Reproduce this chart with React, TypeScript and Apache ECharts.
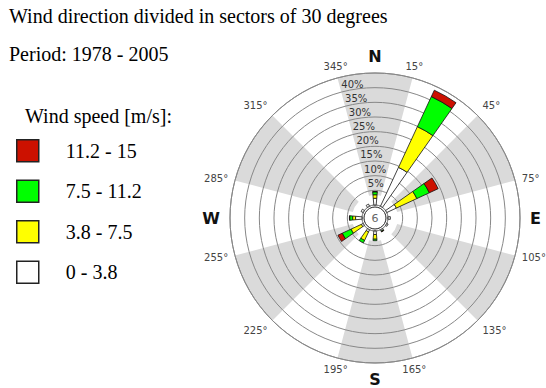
import React, { useEffect, useRef } from "react";
import * as echarts from "echarts";

const directions = ["0", "30", "60", "90", "120", "150", "180", "210", "240", "270", "300", "330"];
const calmPercent = 6;
const speed0to38 = [2.3, 14.6, 3.6, 0.8, 0.5, 0.5, 1.2, 0.8, 0.7, 2.2, 0.8, 0.8];
const speed38to75 = [1.2, 15.3, 7.7, 0, 0, 0, 1.6, 3.2, 3.9, 1.0, 0, 0];
const speed75to112 = [1.0, 11.3, 4.7, 0, 0, 0.2, 0.5, 0.9, 3.3, 1.0, 0, 0];
const speed112to15 = [0.1, 2.4, 3.3, 0, 0, 0.1, 0, 0, 1.6, 0.1, 0, 0];
const classNames = ["0 - 3.8", "3.8 - 7.5", "7.5 - 11.2", "11.2 - 15"];
const classColors = ["#ffffff", "#ffff00", "#00ff00", "#cc1100"];
const compassLabels: Record<number, string> = { 0: "N", 90: "E", 180: "S", 270: "W" };

const CENTER = [375, 218];
const SERIF = "'Liberation Serif', 'Times New Roman', serif";
const SANS = "'DejaVu Sans', Verdana, sans-serif";

export default function App() {
  const ref = useRef<HTMLDivElement>(null);
  useEffect(() => {
    document.body.style.margin = "0";
    const chart = echarts.init(ref.current!, null, { renderer: "svg" });
    const values = [speed0to38, speed38to75, speed75to112, speed112to15];
    const barSeries = values.map((d, i) => ({
      type: "bar",
      name: classNames[i],
      coordinateSystem: "polar",
      polarIndex: 1,
      stack: "wind",
      barWidth: "34%",
      data: d.map((v) => (v === 0 ? "-" : v)),
      itemStyle: { color: classColors[i], borderColor: "#111", borderWidth: 0.8 },
      silent: true,
      z: 3,
    }));
    chart.setOption({
      animation: false,
      backgroundColor: "#fff",
      title: [
        {
          text: "Wind direction divided in sectors of 30 degrees",
          subtext: "Period: 1978 - 2005",
          left: 9,
          top: 6,
          padding: 0,
          itemGap: 18,
          textStyle: { fontFamily: SERIF, fontSize: 20, fontWeight: "normal", color: "#000" },
          subtextStyle: { fontFamily: SERIF, fontSize: 20, color: "#000" },
        },
        {
          text: "Wind speed [m/s]:",
          left: 25,
          top: 106,
          padding: 0,
          textStyle: { fontFamily: SERIF, fontSize: 20, fontWeight: "normal", color: "#000" },
        },
      ],
      legend: {
        orient: "vertical",
        left: 16,
        top: 139,
        padding: 0,
        itemWidth: 22,
        itemHeight: 22,
        itemGap: 17,
        icon: "rect",
        data: [classNames[3], classNames[2], classNames[1], classNames[0]],
        itemStyle: { borderColor: "#222", borderWidth: 1.5 },
        textStyle: { fontFamily: SERIF, fontSize: 20, color: "#000", padding: [0, 0, 0, 22] },
        selectedMode: false,
      },
      polar: [
        { center: CENTER, radius: [23, 145] },
        { center: CENTER, radius: [13, 145] },
        { center: CENTER, radius: [0, 145] },
      ],
      angleAxis: [
        {
          polarIndex: 0,
          type: "value",
          min: 0,
          max: 360,
          interval: 30,
          startAngle: 75,
          z: 0,
          axisLine: { show: false },
          axisTick: { show: false },
          splitLine: { show: false },
          splitArea: { show: true, areaStyle: { color: ["#ffffff", "#dadada"] } },
          axisLabel: {
            margin: 7,
            fontFamily: SANS,
            fontSize: 10,
            color: "#444",
            formatter: (v: number) => (v >= 360 ? "" : v + 15 + "°"),
          },
        },
        {
          polarIndex: 1,
          type: "category",
          data: directions,
          startAngle: 105,
          boundaryGap: true,
          z: 2,
          axisLine: { show: true, lineStyle: { color: "#888", width: 1 } },
          axisTick: { show: false },
          axisLabel: { show: false },
          splitLine: { show: false },
        },
        {
          polarIndex: 2,
          type: "value",
          min: 0,
          max: 360,
          interval: 90,
          startAngle: 90,
          axisLine: { show: false },
          axisTick: { show: false },
          splitLine: { show: false },
          axisLabel: {
            margin: 10,
            lineHeight: 13,
            fontFamily: SANS,
            fontSize: 16,
            fontWeight: "bold",
            color: "#111",
            formatter: (v: number) => compassLabels[v] || "",
          },
        },
      ],
      radiusAxis: [
        { polarIndex: 0, type: "value", show: false },
        {
          polarIndex: 1,
          type: "value",
          min: 0,
          max: 45,
          interval: 5,
          z: 2,
          axisLine: { show: false },
          axisTick: { show: false },
          splitLine: { show: true, lineStyle: { color: "#888", width: 1 } },
          axisLabel: {
            margin: 0,
            align: "left",
            verticalAlign: "bottom",
            padding: [0, 0, 3, 0],
            fontFamily: SANS,
            fontSize: 10,
            color: "#333",
            formatter: (v: number) => (v > 0 && v < 45 ? v + "%" : ""),
          },
        },
        { polarIndex: 2, type: "value", show: false },
      ],
      series: [
        ...barSeries,
        {
          type: "pie",
          name: "calm",
          center: CENTER,
          radius: [0, 11],
          silent: true,
          z: 10,
          data: [{ value: calmPercent, name: "calm" }],
          itemStyle: { color: "#fff", borderColor: "#222", borderWidth: 1 },
          label: {
            show: true,
            position: "center",
            formatter: () => String(calmPercent),
            fontFamily: SANS,
            fontSize: 11,
            color: "#666",
          },
          labelLine: { show: false },
        },
      ],
    });
    return () => chart.dispose();
  }, []);
  return <div ref={ref} style={{ width: 546, height: 388 }} />;
}
